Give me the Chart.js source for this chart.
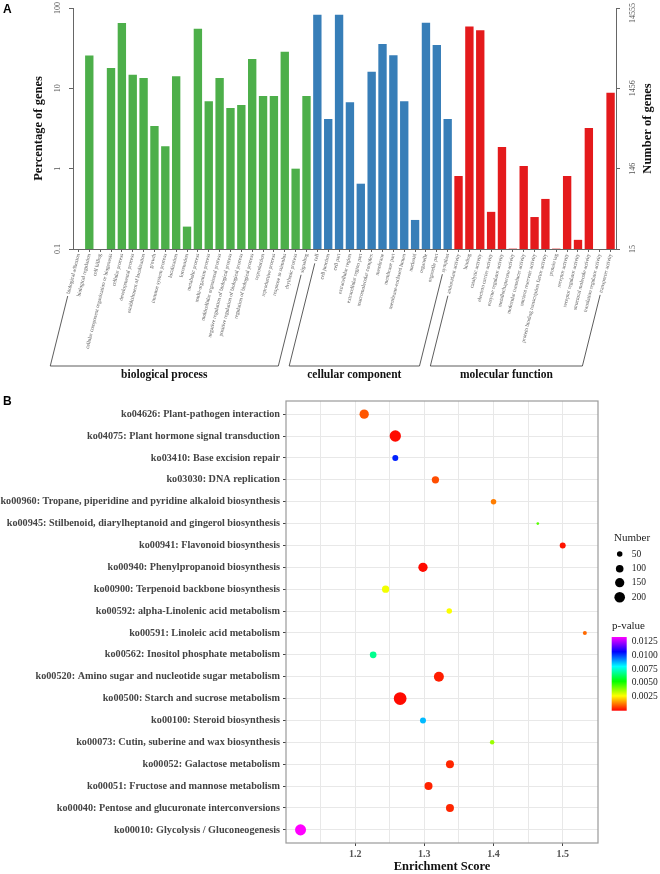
<!DOCTYPE html>
<html>
<head>
<meta charset="utf-8">
<script src="https://cdn.jsdelivr.net/npm/chart.js@4.4.1/dist/chart.umd.min.js"></script>
<style>
  html, body { margin: 0; padding: 0; background: #fff; overflow: hidden; }
  #wrap_go { position: absolute; left: 0; top: 0; width: 660px; height: 390px; }
  #wrap_kegg { position: absolute; left: 0; top: 390px; width: 660px; height: 484px; }
</style>
</head>
<body>
<div id="wrap_go"><canvas id="chart_go"></canvas></div>
<div id="wrap_kegg"><canvas id="chart_kegg"></canvas></div>
<script>
// ---- panel A : GO classification ----
var bpTerms = ['biological adhesion', 'biological regulation', 'cell killing',
  'cellular component organization or biogenesis', 'cellular process', 'developmental process',
  'establishment of localization', 'growth', 'immune system process', 'localization', 'locomotion',
  'metabolic process', 'multi-organism process', 'multicellular organismal process',
  'negative regulation of biological process', 'positive regulation of biological process',
  'regulation of biological process', 'reproduction', 'reproductive process',
  'response to stimulus', 'rhythmic process', 'signaling'];
var bpPercent = [null, 25.7, null, 17.9, 65, 14.8, 13.4, 3.4, 1.9, 14.1, 0.19,
  55, 6.9, 13.4, 5.7, 6.2, 23.2, 8.0, 8.0, 28.6, 1.0, 8.0];

var ccTerms = ['cell', 'cell junction', 'cell part', 'extracellular region', 'extracellular region part',
  'macromolecular complex', 'membrane', 'membrane part', 'membrane-enclosed lumen', 'nucleoid',
  'organelle', 'organelle part', 'symplast'];
var ccPercent = [82.6, 4.15, 82.6, 6.7, 0.65, 16.1, 35.6, 25.9, 6.9, 0.23, 65.6, 34.6, 4.15];

var mfTerms = ['antioxidant activity', 'binding', 'catalytic activity', 'electron carrier activity',
  'enzyme regulator activity', 'metallochaperone activity', 'molecular transducer activity',
  'nutrient reservoir activity', 'protein binding transcription factor activity', 'protein tag',
  'receptor activity', 'receptor regulator activity', 'structural molecule activity',
  'translation regulator activity', 'transporter activity'];
var mfPercent = [0.81, 59, 53, 0.29, 1.86, 0.101, 1.08, 0.25, 0.42, 0.101, 0.81, 0.13, 3.2, null, 8.8];

var groupNames = ['biological process', 'cellular component', 'molecular function'];
var groupColors = ['#4daf4a', '#377eb8', '#e41a1c'];
var percentTicks = [0.1, 1, 10, 100];
var geneTickLabels = ['15', '146', '1456', '14555'];

// ---- panel B : KEGG enrichment ----
var pathways = [
  'ko04626: Plant-pathogen interaction',
  'ko04075: Plant hormone signal transduction',
  'ko03410: Base excision repair',
  'ko03030: DNA replication',
  'ko00960: Tropane, piperidine and pyridine alkaloid biosynthesis',
  'ko00945: Stilbenoid, diarylheptanoid and gingerol biosynthesis',
  'ko00941: Flavonoid biosynthesis',
  'ko00940: Phenylpropanoid biosynthesis',
  'ko00900: Terpenoid backbone biosynthesis',
  'ko00592: alpha-Linolenic acid metabolism',
  'ko00591: Linoleic acid metabolism',
  'ko00562: Inositol phosphate metabolism',
  'ko00520: Amino sugar and nucleotide sugar metabolism',
  'ko00500: Starch and sucrose metabolism',
  'ko00100: Steroid biosynthesis',
  'ko00073: Cutin, suberine and wax biosynthesis',
  'ko00052: Galactose metabolism',
  'ko00051: Fructose and mannose metabolism',
  'ko00040: Pentose and glucuronate interconversions',
  'ko00010: Glycolysis / Gluconeogenesis'
];
var enrichScore = [1.213, 1.258, 1.258, 1.316, 1.400, 1.464, 1.500, 1.298, 1.244, 1.336,
  1.532, 1.226, 1.321, 1.265, 1.298, 1.398, 1.337, 1.306, 1.337, 1.121];
var geneNumber = [152, 227, 60, 91, 49, 8, 60, 152, 91, 49,
  24, 76, 176, 290, 60, 31, 111, 111, 111, 215];
var pValue = [0.0009, 0.0001, 0.0103, 0.0008, 0.0013, 0.0044, 0.0002, 0.0001, 0.0028, 0.0027,
  0.0011, 0.0068, 0.0003, 0.0001, 0.0087, 0.0037, 0.0004, 0.00035, 0.0004, 0.0133];
var scoreTicks = [1.15, 1.2, 1.25, 1.3, 1.35, 1.4, 1.45, 1.5];
var numberLegend = [50, 100, 150, 200];
var pLegend = [0.0125, 0.0100, 0.0075, 0.0050, 0.0025];
var pMax = 0.0133;

var SERIF = "'Liberation Serif', 'DejaVu Serif', serif";
Chart.defaults.font.family = SERIF;

function rotText(ctx, t, x, y) {
  ctx.save();
  ctx.translate(x, y);
  ctx.rotate(-Math.PI / 2);
  ctx.fillText(t, 0, 0);
  ctx.restore();
}
function pColor(p) {
  var h = 300 * Math.min(p / pMax, 1);
  return 'hsl(' + h + ',100%,50%)';
}
function bubbleR(n) {
  return Math.sqrt(0.55 * n + 3) / 2;
}

// build combined GO series
var goTerms = bpTerms.concat(ccTerms, mfTerms);
var goPercent = bpPercent.concat(ccPercent, mfPercent);
var groupSizes = [bpTerms.length, ccTerms.length, mfTerms.length];
var barColors = [];
groupSizes.forEach(function (n, g) {
  for (var i = 0; i < n; i++) barColors.push(groupColors[g]);
});

var tickFontA = { family: SERIF, size: 5.3 };
var labelRot = 76;

var goDecor = {
  id: 'goDecor',
  afterDraw: function (chart) {
    var ctx = chart.ctx;
    var xs = chart.scales.x, yl = chart.scales.y;
    ctx.save();
    ctx.fillStyle = '#555';
    ctx.font = '8px ' + SERIF;
    ctx.textAlign = 'center';
    ctx.textBaseline = 'middle';
    percentTicks.forEach(function (v, i) {
      var y = yl.getPixelForValue(v);
      rotText(ctx, String(v), 58, Math.max(y, ctx.measureText(String(v)).width / 2 + 1));
      rotText(ctx, geneTickLabels[i], 633, Math.max(y, ctx.measureText(geneTickLabels[i]).width / 2 + 3));
    });
    ctx.fillStyle = '#111';
    ctx.font = 'bold 12.5px ' + SERIF;
    var midY = (chart.chartArea.top + chart.chartArea.bottom) / 2;
    rotText(ctx, 'Percentage of genes', 39, midY);
    rotText(ctx, 'Number of genes', 648, midY);

    // group brackets
    var a = labelRot * Math.PI / 180;
    var c = Math.cos(a), s = Math.sin(a);
    var y0 = xs.top + 4, yb = 366;
    ctx.font = '5.3px ' + SERIF;
    ctx.strokeStyle = '#333';
    ctx.lineWidth = 0.8;
    var start = 0;
    groupSizes.forEach(function (n, g) {
      var i0 = start, i1 = start + n - 1;
      start += n;
      var x0 = xs.getPixelForValue(i0), x1 = xs.getPixelForValue(i1);
      var w0 = ctx.measureText(goTerms[i0]).width + 3;
      var w1 = ctx.measureText(goTerms[i1]).width + 3;
      var bx0 = x0 - (yb - y0) * c / s, bx1 = x1 - (yb - y0) * c / s;
      ctx.beginPath();
      ctx.moveTo(x0 - w0 * c, y0 + w0 * s);
      ctx.lineTo(bx0, yb);
      ctx.lineTo(bx1, yb);
      ctx.lineTo(x1 - w1 * c, y0 + w1 * s);
      ctx.stroke();
      ctx.save();
      ctx.fillStyle = '#111';
      ctx.font = 'bold 11.5px ' + SERIF;
      ctx.textAlign = 'center';
      ctx.textBaseline = 'middle';
      ctx.fillText(groupNames[g], (bx0 + bx1) / 2, yb + 9);
      ctx.restore();
    });

    ctx.fillStyle = '#000';
    ctx.font = 'bold 12px Arial, "Liberation Sans", sans-serif';
    ctx.textAlign = 'left';
    ctx.textBaseline = 'alphabetic';
    ctx.fillText('A', 3, 13);
    ctx.restore();
  }
};

new Chart(document.getElementById('chart_go'), {
  type: 'bar',
  data: {
    labels: goTerms,
    datasets: [{
      data: goPercent,
      backgroundColor: barColors,
      borderWidth: 0,
      barPercentage: 0.77,
      categoryPercentage: 1
    }]
  },
  options: {
    responsive: true,
    maintainAspectRatio: false,
    animation: false,
    events: [],
    layout: { padding: { top: 8, left: 0, right: 0, bottom: 0 } },
    plugins: { legend: { display: false }, tooltip: { enabled: false } },
    scales: {
      x: {
        type: 'category',
        offset: true,
        grid: { display: true, drawOnChartArea: false, drawTicks: true, tickLength: 3, color: '#666', offset: false },
        border: { display: true, color: '#666' },
        ticks: { autoSkip: false, minRotation: labelRot, maxRotation: labelRot, font: tickFontA, color: '#555', padding: 1 },
        afterFit: function (s) { s.height = 141; s.paddingLeft = 0; s.paddingRight = 0; }
      },
      y: {
        type: 'logarithmic',
        position: 'left',
        min: 0.1,
        max: 100,
        afterBuildTicks: function (s) { s.ticks = percentTicks.map(function (v) { return { value: v }; }); },
        ticks: { display: false },
        grid: { display: true, drawOnChartArea: false, drawTicks: true, tickLength: 4, color: '#666' },
        border: { display: true, color: '#666' },
        afterFit: function (s) { s.width = 73; s.paddingTop = 0; s.paddingBottom = 0; }
      },
      y2: {
        type: 'logarithmic',
        position: 'right',
        min: 0.1,
        max: 100,
        afterBuildTicks: function (s) { s.ticks = percentTicks.map(function (v) { return { value: v }; }); },
        ticks: { display: false },
        grid: { display: true, drawOnChartArea: false, drawTicks: true, tickLength: 4, color: '#666' },
        border: { display: true, color: '#666' },
        afterFit: function (s) { s.width = 44; s.paddingTop = 0; s.paddingBottom = 0; }
      }
    }
  },
  plugins: [goDecor]
});

// ---- panel B ----
var nPath = pathways.length;
var bubbles = pathways.map(function (p, i) {
  return { x: enrichScore[i], y: nPath - i, r: bubbleR(geneNumber[i]) };
});

var keggDecor = {
  id: 'keggDecor',
  afterDraw: function (chart) {
    var ctx = chart.ctx, ca = chart.chartArea;
    ctx.save();
    ctx.strokeStyle = '#9a9a9a';
    ctx.lineWidth = 1.2;
    ctx.strokeRect(ca.left, ca.top, ca.right - ca.left, ca.bottom - ca.top);

    ctx.fillStyle = '#000';
    ctx.font = 'bold 12px Arial, "Liberation Sans", sans-serif';
    ctx.fillText('B', 3, 15);

    // size legend
    ctx.fillStyle = '#222';
    ctx.font = '11px ' + SERIF;
    ctx.textBaseline = 'middle';
    ctx.textAlign = 'left';
    ctx.fillText('Number', 614, 148);
    var ly = [164, 178.7, 192.7, 207.3];
    ctx.font = '9.5px ' + SERIF;
    numberLegend.forEach(function (n, i) {
      ctx.fillStyle = '#000';
      ctx.beginPath();
      ctx.arc(619.7, ly[i], bubbleR(n), 0, Math.PI * 2);
      ctx.fill();
      ctx.fillStyle = '#222';
      ctx.fillText(String(n), 631.7, ly[i]);
    });

    // colour bar legend
    ctx.font = '11px ' + SERIF;
    ctx.fillText('p-value', 612, 236);
    var top = 247, bot = 320.7, bx = 611.7, bw = 15;
    var grad = ctx.createLinearGradient(0, bot, 0, top);
    for (var k = 0; k <= 10; k++) grad.addColorStop(k / 10, 'hsl(' + (30 * k) + ',100%,50%)');
    ctx.fillStyle = grad;
    ctx.fillRect(bx, top, bw, bot - top);
    ctx.fillStyle = '#222';
    ctx.font = '9.5px ' + SERIF;
    pLegend.forEach(function (p) {
      var y = bot - (p / pMax) * (bot - top);
      ctx.fillText(p.toFixed(4), 631.7, y);
    });
    ctx.restore();
  }
};

new Chart(document.getElementById('chart_kegg'), {
  type: 'bubble',
  data: {
    datasets: [{
      data: bubbles,
      backgroundColor: pValue.map(pColor),
      borderWidth: 0
    }]
  },
  options: {
    responsive: true,
    maintainAspectRatio: false,
    animation: false,
    events: [],
    layout: { padding: { top: 11, left: 0, right: 62, bottom: 0 } },
    plugins: { legend: { display: false }, tooltip: { enabled: false } },
    scales: {
      x: {
        type: 'linear',
        min: 1.1,
        max: 1.551,
        afterBuildTicks: function (s) { s.ticks = scoreTicks.map(function (v) { return { value: v }; }); },
        ticks: {
          font: { family: SERIF, size: 10, weight: 'bold' },
          color: '#555',
          padding: 2,
          callback: function (v) { return Math.round(v * 100) % 10 === 0 ? v.toFixed(1) : ''; }
        },
        grid: {
          color: '#e8e8e8',
          lineWidth: 1,
          tickLength: 3,
          tickColor: function (c) { return c.tick && Math.round(c.tick.value * 100) % 10 === 0 ? '#444' : 'rgba(0,0,0,0)'; }
        },
        border: { display: false },
        title: { display: true, text: 'Enrichment Score', font: { family: SERIF, size: 12.5, weight: 'bold' }, color: '#111', padding: 0 },
        afterFit: function (s) { s.height = 31; s.paddingLeft = 0; s.paddingRight = 0; }
      },
      y: {
        type: 'linear',
        min: 0.4,
        max: nPath + 0.6,
        afterBuildTicks: function (s) {
          s.ticks = pathways.map(function (p, i) { return { value: nPath - i }; });
        },
        ticks: {
          font: { family: SERIF, size: 10.2, weight: 'bold' },
          color: '#444',
          padding: 3,
          callback: function (v) { return pathways[nPath - v]; }
        },
        grid: { color: '#e8e8e8', lineWidth: 1, tickLength: 3, tickColor: '#444' },
        border: { display: false },
        afterFit: function (s) { s.width = 286; s.paddingTop = 0; s.paddingBottom = 0; }
      }
    }
  },
  plugins: [keggDecor]
});
</script>
</body>
</html>
